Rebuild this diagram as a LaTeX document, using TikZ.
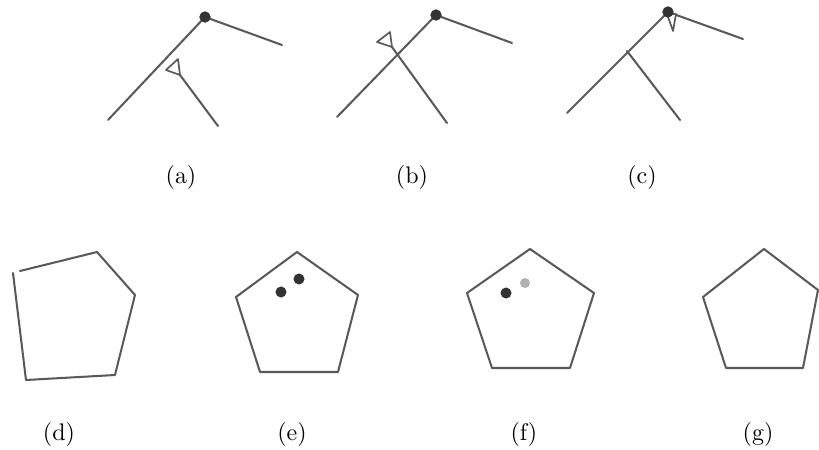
\documentclass[tikz,border=0pt]{standalone}
\usetikzlibrary{positioning}

\begin{document}
\begin{tikzpicture}[
    x=0.014652cm,
    y=-0.014652cm,
    limb/.style={
        draw=black!65,
        line width=0.85pt,
        line cap=round,
        line join=round
    },
    cone/.style={
        draw=black!65,
        line width=0.7pt,
        fill=white,
        line join=round
    },
    joint/.style={
        circle,
        fill=black!80,
        inner sep=0pt,
        minimum size=4.6pt
    },
    ghost/.style={
        circle,
        fill=black!30,
        inner sep=0pt,
        minimum size=4.2pt
    },
    caption/.style={
        inner sep=0pt
    }
]

\useasboundingbox (0,0) rectangle (819,450);

% (a)
\coordinate (abase) at (108,120);
\coordinate (aend) at (282,45);
\coordinate (atip) at (180,75);
\coordinate (afoot) at (218,126);
\node[joint] (ajoint) at (205,17) {};
\draw[limb] (abase) -- (ajoint.center) -- (aend);
\draw[limb] (afoot) -- (atip);
\draw[cone] (atip) -- (166,70) -- (178,59) -- cycle;
\node[joint] at (ajoint) {};
\node[caption] (alabel) at (181,178) {(a)};

% (b)
\coordinate (bbase) at (337,117);
\coordinate (bend) at (512,43);
\coordinate (btip) at (392,47);
\coordinate (bfoot) at (447,123);
\node[joint] (bjoint) at (436,15) {};
\draw[limb] (bbase) -- (bjoint.center) -- (bend);
\draw[limb] (bfoot) -- (btip);
\draw[cone] (btip) -- (377,42) -- (390,32) -- cycle;
\node[joint] at (bjoint) {};
\node[caption] (blabel) at (412,178) {(b)};

% (c)
\coordinate (cbase) at (567,113);
\coordinate (cend) at (743,39);
\coordinate (cknee) at (627,51);
\coordinate (cfoot) at (680,120);
\node[joint] (cjoint) at (668,12) {};
\draw[limb] (cbase) -- (cjoint.center) -- (cend);
\draw[limb] (cfoot) -- (cknee);
\draw[cone] (673,31) -- (667,14) -- (676,14) -- cycle;
\node[joint] at (cjoint) {};
\node[caption] (clabel) at (642,178) {(c)};

% (d)
\draw[limb] (20,271) -- (97,252) -- (135,295) -- (115,375) -- (26,380) -- (13,273);
\node[caption] (dlabel) at (59,435) {(d)};

% (e)
\draw[limb] (297,252) -- (358,295) -- (338,372) -- (260,372) -- (236,297) -- cycle;
\node[joint] (edot1) at (281,292) {};
\node[joint] (edot2) at (299,279) {};
\node[caption] (elabel) at (292,435) {(e)};

% (f)
\draw[limb] (530,249) -- (594,293) -- (570,368) -- (492,368) -- (467,293) -- cycle;
\node[joint] (fdot1) at (506,293) {};
\node[ghost] (fdot2) at (525,283) {};
\node[caption] (flabel) at (524,435) {(f)};

% (g)
\draw[limb] (764,249) -- (818,290) -- (803,368) -- (726,368) -- (703,297) -- cycle;
\node[caption] (glabel) at (758,435) {(g)};

\end{tikzpicture}
\end{document}
